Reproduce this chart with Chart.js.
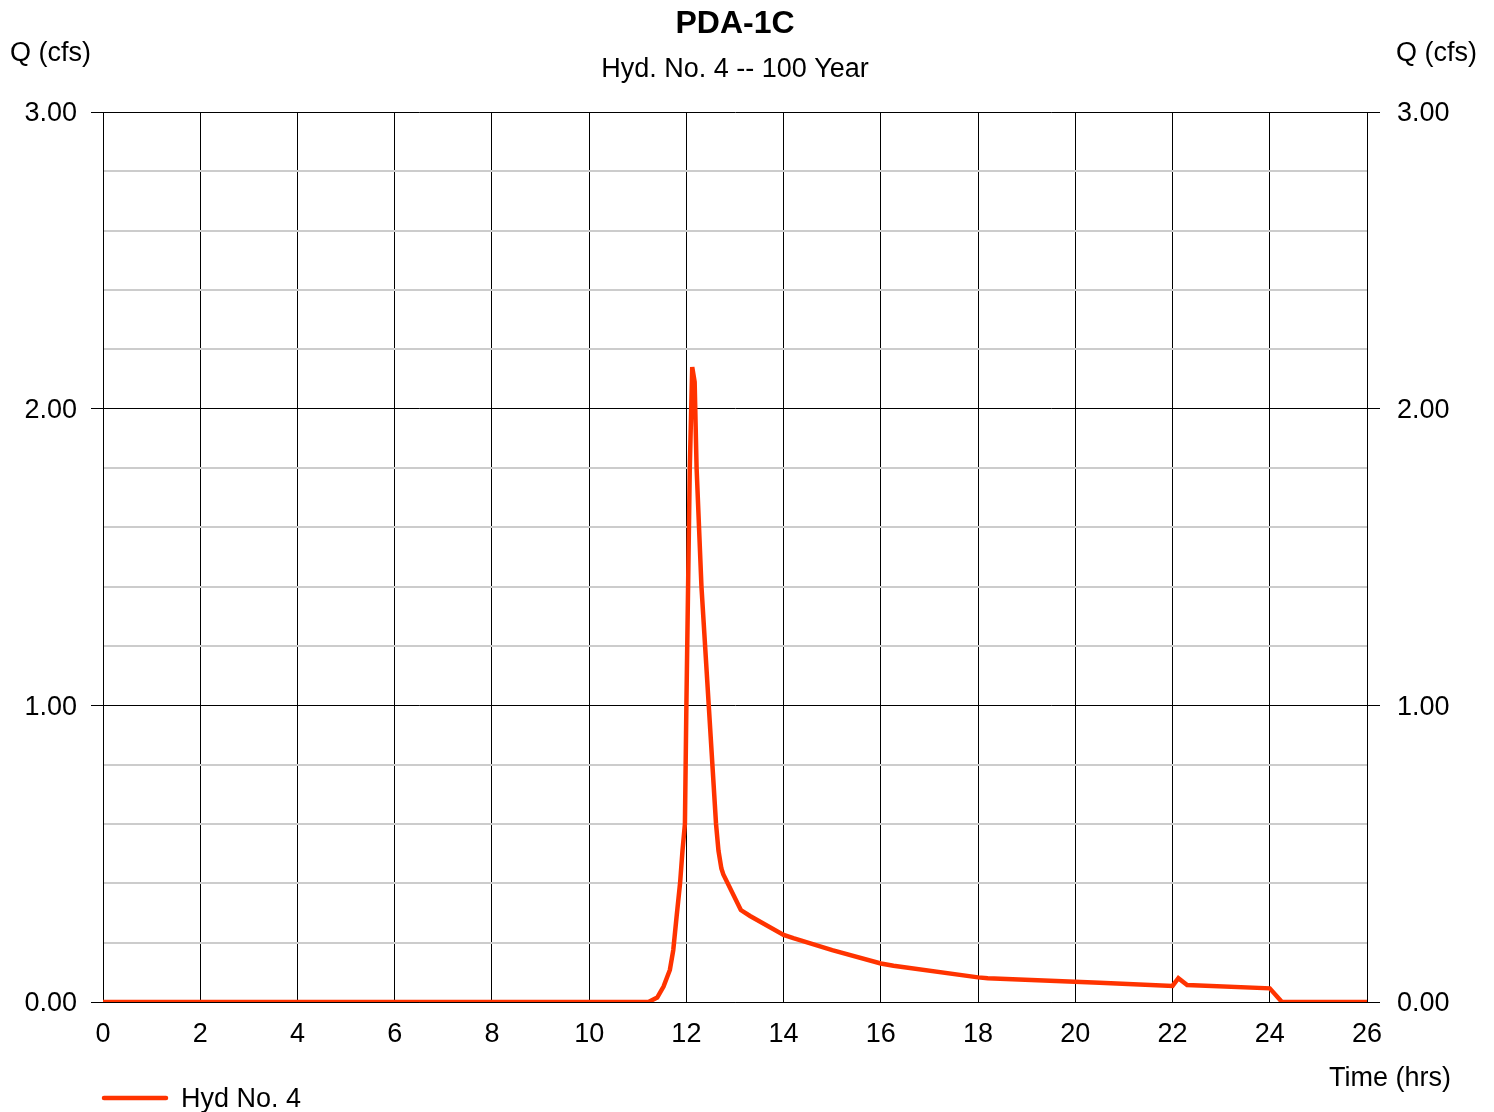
<!DOCTYPE html>
<html>
<head>
<meta charset="utf-8">
<title>PDA-1C</title>
<script src="https://cdn.jsdelivr.net/npm/chart.js@4"></script>
<style>
  body { margin: 0; background: #fff; }
  canvas { display: block; }
</style>
</head>
<body>
<canvas id="hydChart" width="1494" height="1112"></canvas>
<script>
const times = [0, 11.22, 11.40, 11.53, 11.66, 11.73, 11.80, 11.87, 11.92, 11.97,
  12.00, 12.07, 12.12, 12.17, 12.21, 12.31, 12.46, 12.61, 12.66, 12.72,
  12.76, 13.12, 13.31, 14.00, 14.20, 15.00, 16.00, 16.26, 18.00, 18.20,
  20.50, 22.00, 22.12, 22.30, 24.00, 24.25, 26.00];
const flows = [0, 0, 0.015, 0.052, 0.108, 0.175, 0.29, 0.40, 0.51, 0.60,
  1.00, 1.80, 2.14, 2.09, 1.80, 1.40, 1.00, 0.60, 0.51, 0.45,
  0.43, 0.31, 0.29, 0.226, 0.215, 0.175, 0.13, 0.122, 0.083, 0.08,
  0.065, 0.054, 0.080, 0.057, 0.046, 0, 0];

const seriesLabel = 'Hyd No. 4';
const chartTitle = 'PDA-1C';
const chartSubtitle = 'Hyd. No. 4 -- 100 Year';
const yAxisLabel = 'Q (cfs)';
const xAxisLabel = 'Time (hrs)';

const lineColor = '#ff3300';
const FONT = '"Liberation Sans", Arial, sans-serif';

Chart.defaults.font.family = FONT;
Chart.defaults.color = '#000';

const isMajor = v => Math.abs(v - Math.round(v)) < 1e-6;

// extra labels: axis names above the y axes, x axis name, legend
const sideLabels = {
  id: 'sideLabels',
  afterDraw(chart) {
    const ctx = chart.ctx;
    ctx.save();
    ctx.fillStyle = '#000';
    ctx.font = '27px ' + FONT;
    ctx.textBaseline = 'middle';
    ctx.textAlign = 'left';
    ctx.fillText(yAxisLabel, 10, 54);
    ctx.textAlign = 'right';
    ctx.fillText(yAxisLabel, 1477, 54);
    ctx.fillText(xAxisLabel, 1451, 1079);

    const ds = chart.data.datasets[0];
    ctx.strokeStyle = ds.borderColor;
    ctx.lineWidth = 4.5;
    ctx.lineCap = 'round';
    ctx.beginPath();
    ctx.moveTo(104, 1098);
    ctx.lineTo(166, 1098);
    ctx.stroke();
    ctx.textAlign = 'left';
    ctx.fillText(ds.label, 181, 1100);
    ctx.restore();
  }
};

const hydChart = new Chart(document.getElementById('hydChart').getContext('2d'), {
  type: 'line',
  data: {
    datasets: [{
      label: seriesLabel,
      data: times.map((t, i) => ({x: t, y: flows[i]})),
      borderColor: lineColor,
      borderWidth: 4.5,
      pointRadius: 0,
      tension: 0,
      fill: false
    }]
  },
  options: {
    responsive: false,
    animation: false,
    devicePixelRatio: 1,
    layout: { padding: 0 },
    plugins: {
      legend: { display: false },
      tooltip: { enabled: false },
      title: {
        display: true,
        fullSize: false,
        text: chartTitle,
        font: { size: 32, weight: 'bold' },
        color: '#000',
        padding: { top: 4.8, bottom: 6 }
      },
      subtitle: {
        display: true,
        fullSize: false,
        text: chartSubtitle,
        font: { size: 27 },
        color: '#000',
        padding: { top: 4.6, bottom: 25.8 }
      }
    },
    scales: {
      x: {
        type: 'linear',
        min: 0,
        max: 26,
        afterFit(scale) { scale.height = 110; },
        ticks: {
          stepSize: 2,
          font: { size: 27 },
          color: '#000',
          padding: 16,
          maxRotation: 0
        },
        grid: { color: '#000', lineWidth: 1, drawTicks: false },
        border: { color: '#000', width: 1 }
      },
      y: {
        position: 'left',
        min: 0,
        max: 3,
        afterFit(scale) { scale.width = 103; },
        ticks: {
          stepSize: 0.2,
          font: { size: 27 },
          color: '#000',
          padding: 14,
          labelOffset: 2,
          autoSkip: false,
          callback: v => isMajor(v) ? v.toFixed(2) : ''
        },
        grid: {
          color: c => isMajor(c.tick.value) ? '#000' : '#cccccc',
          lineWidth: c => isMajor(c.tick.value) ? 1 : 2,
          tickColor: c => isMajor(c.tick.value) ? '#000' : 'rgba(0,0,0,0)',
          tickLength: 12,
          tickWidth: 1
        },
        border: { color: '#000', width: 1 }
      },
      y2: {
        position: 'right',
        min: 0,
        max: 3,
        afterFit(scale) { scale.width = 127; },
        ticks: {
          stepSize: 1,
          font: { size: 27 },
          color: '#000',
          padding: 17,
          labelOffset: 2,
          callback: v => v.toFixed(2)
        },
        grid: {
          drawOnChartArea: false,
          tickColor: '#000',
          tickLength: 13,
          tickWidth: 1
        },
        border: { color: '#000', width: 1 }
      }
    }
  },
  plugins: [sideLabels]
});
</script>
</body>
</html>
